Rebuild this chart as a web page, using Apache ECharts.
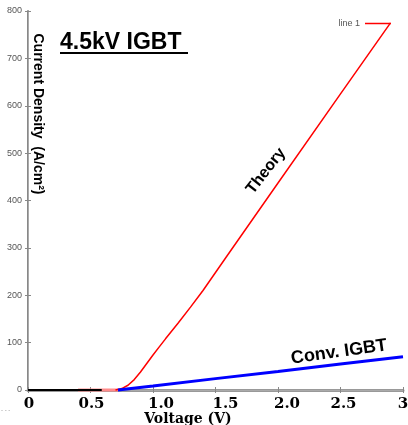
<!DOCTYPE html>
<html><head><meta charset="utf-8">
<script src="https://cdn.jsdelivr.net/npm/echarts@6/dist/echarts.min.js"></script>
<style>html,body{margin:0;padding:0;background:#fff}#c{width:408px;height:425px}</style>
</head><body><div id="c"></div>
<script>
// ---- data ----
const xTicks = ['0', '0.5', '1.0', '1.5', '2.0', '2.5', '3'];
const theoryV = [0.70, 0.75, 0.80, 0.85, 0.90, 0.95, 1.00, 1.05, 1.10, 1.20, 1.30, 1.40, 1.60, 2.00, 2.50, 2.90];
const theoryJ = [0, 3, 10, 22, 38, 56, 74, 91, 108, 141, 175, 210, 286, 437, 625, 775];
const convV = [0.72, 1.00, 1.50, 2.00, 2.50, 3.00];
const convJ = [0, 8.5, 24, 39, 55, 70];
const baseV = [0, 0.59];
const baseJ = [0, 0];
const offV = [0.40, 0.72];
const offJ = [0, 0];

const pairs = (xs, ys) => xs.map((x, i) => [x, ys[i]]);
// label nudges (pixels) for the pasted-over tick labels
const labelShift = [1, 1, 8, 10, 9, 3, 0];
const rich = {};
labelShift.forEach((s, i) => {
  rich['l' + i] = {fontFamily: 'DejaVu Serif', fontWeight: 'bold', fontSize: 15, color: '#000',
    padding: s >= 0 ? [0, 0, 0, 2 * s] : [0, -2 * s, 0, 0]};
});
const narrow = "'Liberation Sans Narrow', 'Liberation Sans', sans-serif";
const chart = echarts.init(document.getElementById('c'), null, {renderer: 'canvas'});
chart.setOption({
  animation: false,
  backgroundColor: '#fff',
  grid: {left: 28, right: 5, top: 11, bottom: 35, containLabel: false, outerBoundsMode: 'none'},
  legend: {
    data: [{name: 'line 1', icon: 'rect'}], right: 12, top: 14, itemWidth: 26, itemHeight: 1.5, align: 'right',
    itemStyle: {color: '#ff0000'},
    textStyle: {fontSize: 9, color: '#555', fontFamily: narrow}
  },
  xAxis: [{
    type: 'value', min: 0, max: 3, interval: 0.5,
    axisLine: {lineStyle: {color: '#999', width: 3}},
    axisTick: {inside: true, length: 3, lineStyle: {color: '#888'}},
    splitLine: {show: false},
    axisLabel: {
      margin: 7,
      formatter: (v) => { const i = Math.round(v / 0.5); return '{l' + i + '|' + xTicks[i] + '}'; },
      rich: rich
    },
    name: 'Voltage (V)', nameLocation: 'middle', nameGap: 22, nameMoveOverlap: false,
    nameTextStyle: {fontFamily: 'DejaVu Serif', fontWeight: 'bold', fontSize: 14, color: '#000', padding: [0, 55, 0, 0]}
  }, {
    type: 'value', min: 0, max: 3, interval: 0.5, position: 'top',
    axisLine: {show: true, lineStyle: {color: '#aaa', width: 1}},
    axisTick: {inside: true, length: 3, lineStyle: {color: '#888'}},
    axisLabel: {show: false}, splitLine: {show: false}
  }],
  yAxis: [{
    type: 'value', min: 0, max: 800, interval: 100,
    axisLine: {show: true, lineStyle: {color: '#888', width: 2}},
    axisTick: {show: true, inside: true, length: 3, lineStyle: {color: '#888'}},
    splitLine: {show: false},
    axisLabel: {margin: 6, fontSize: 9, color: '#555', fontFamily: narrow}
  }, {
    type: 'value', min: 0, max: 800, interval: 100, position: 'right',
    axisLine: {show: true, lineStyle: {color: '#aaa', width: 1}},
    axisTick: {show: true, inside: true, length: 3, lineStyle: {color: '#888'}},
    axisLabel: {show: false}, splitLine: {show: false}
  }],
  series: [
    {name: 'off', type: 'line', data: pairs(offV, offJ), symbol: 'none', clip: false,
     lineStyle: {color: '#ff8c8c', width: 3}, z: 2},
    {name: 'base', type: 'line', data: pairs(baseV, baseJ), symbol: 'none', clip: false,
     lineStyle: {color: '#000', width: 2}, z: 3},
    {name: 'line 1', type: 'line', data: pairs(theoryV, theoryJ), symbol: 'none', clip: false,
     itemStyle: {color: '#ff0000'}, lineStyle: {color: '#ff0000', width: 1.5}, z: 4},
    {name: 'conv', type: 'line', data: pairs(convV, convJ), symbol: 'none', clip: false,
     lineStyle: {color: '#0000ff', width: 3}, z: 5}
  ],
  graphic: [
    {type: 'text', x: 60, y: 43, style: {text: '4.5kV IGBT', font: 'bold 23px "Liberation Sans", Arial, sans-serif', fill: '#000', verticalAlign: 'middle'}},
    {type: 'line', shape: {x1: 60, y1: 53, x2: 188, y2: 53}, style: {stroke: '#000', lineWidth: 2}},
    {type: 'text', x: 38, y: 114, rotation: -Math.PI / 2,
     style: {text: 'Current Density  (A/cm²)', font: 'bold 14px "Liberation Sans", Arial, sans-serif', fill: '#000', align: 'center', verticalAlign: 'middle'}},
    {type: 'text', x: 266, y: 171, rotation: 52 * Math.PI / 180,
     style: {text: 'Theory', font: 'bold 16px "Liberation Sans", Arial, sans-serif', fill: '#000', align: 'center', verticalAlign: 'middle'}},
    {type: 'text', x: 339, y: 352, rotation: 8 * Math.PI / 180,
     style: {text: 'Conv. IGBT', font: 'bold 18px "Liberation Sans", Arial, sans-serif', fill: '#000', align: 'center', verticalAlign: 'middle'}},
    {type: 'text', x: 1, y: 407, style: {text: '- - -', font: '6px sans-serif', fill: '#999'}}
  ]
});
</script></body></html>
